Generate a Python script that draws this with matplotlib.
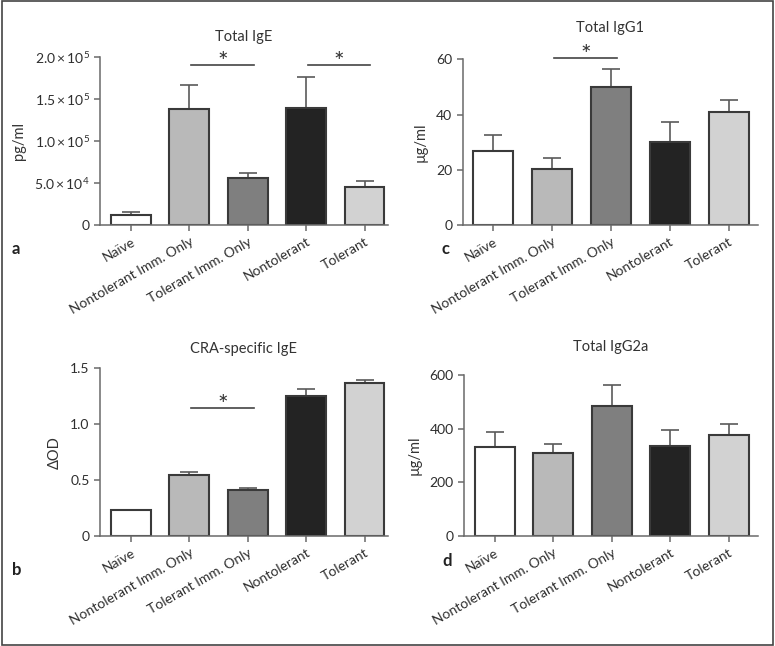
import numpy as np
import matplotlib
matplotlib.use("Agg")
import matplotlib.pyplot as plt
from matplotlib.ticker import FixedLocator, FuncFormatter

plt.rcParams['font.family'] = ['Lato', 'DejaVu Sans']
plt.rcParams['mathtext.fontset'] = 'custom'
plt.rcParams['mathtext.rm'] = 'Lato'
plt.rcParams['mathtext.it'] = 'Lato:italic'

groups = ["Naïve", "Nontolerant Imm. Only", "Tolerant Imm. Only", "Nontolerant", "Tolerant"]
bar_colors = ["#ffffff", "#b9b9b9", "#7f7f7f", "#232323", "#d2d2d2"]

total_ige = [12000, 138500, 55600, 139600, 45200]
total_ige_err = [4000, 28500, 6400, 37400, 7500]

cra_ige = [0.23, 0.543, 0.411, 1.255, 1.366]
cra_ige_err = [0.0, 0.027, 0.019, 0.057, 0.032]

total_igg1 = [26.8, 20.3, 50.1, 30.2, 40.8]
total_igg1_err = [5.9, 3.9, 6.3, 7.2, 4.4]

total_igg2a = [333, 308, 486, 335, 375]
total_igg2a_err = [53, 36, 76, 59, 44]

W, H = 775, 646


def sci_fmt(v, pos):
    if v == 0:
        return "0"
    exp = int(np.floor(np.log10(v)))
    mant = v / 10 ** exp
    return r"$\mathregular{%.1f \times 10^{%d}}$" % (mant, exp)


def draw_panel(ax, values, errors, title, title_y, ylabel, yticks, xlim, sig=None, fmt=None):
    x = np.arange(len(values))
    ax.bar(x, values, width=0.68, color=bar_colors, edgecolor="#3a3a3a",
           linewidth=1.5, zorder=2)
    for xi, v, e in zip(x, values, errors):
        if e > 0:
            ax.errorbar(xi, v, yerr=[[0], [e]], fmt="none", ecolor="#5a5a5a",
                        elinewidth=1.2, capsize=6.5, capthick=1.2, zorder=1)
    ax.set_xlim(*xlim)
    ax.set_ylim(yticks[0], yticks[-1])
    ax.yaxis.set_major_locator(FixedLocator(yticks))
    if fmt is not None:
        ax.yaxis.set_major_formatter(FuncFormatter(fmt))
    ax.set_xticks(x)
    ax.set_xticklabels(groups, rotation=30, ha="right", rotation_mode="anchor")
    box = ax.get_position()
    fig.text((box.x0 + box.x1) / 2, 1 - title_y / H, title, ha="center", va="center",
             fontsize=10.5, color="#333333")
    ax.set_ylabel(ylabel, fontsize=10.5, color="#333333", labelpad=6)
    for s in ["top", "right"]:
        ax.spines[s].set_visible(False)
    for s in ["left", "bottom"]:
        ax.spines[s].set_color("#6a6a6a")
        ax.spines[s].set_linewidth(1.1)
    ax.tick_params(axis="both", colors="#6a6a6a", labelcolor="#2e2e2e",
                   labelsize=10, length=4, width=1.1, direction="out")
    if sig:
        for (i0, i1, yv) in sig:
            x0, x1 = i0 + 0.03, i1 + 0.1
            ax.plot([x0, x1], [yv, yv], color="#444444", lw=1.2, clip_on=False)
            ax.annotate("*", xy=((x0 + x1) / 2, yv), xytext=(0, -3.5),
                        textcoords="offset points", ha="center", va="baseline",
                        fontsize=18, color="#333333", annotation_clip=False)


fig = plt.figure(figsize=(7.75, 6.46), dpi=100)
fig.patch.set_facecolor("white")

ax_a = fig.add_axes([0.129, 0.6517, 0.3716, 0.2596])
ax_c = fig.add_axes([0.597, 0.6517, 0.381, 0.2565])
ax_b = fig.add_axes([0.129, 0.1703, 0.3716, 0.2596])
ax_d = fig.add_axes([0.599, 0.1703, 0.379, 0.2492])

draw_panel(ax_a, total_ige, total_ige_err, "Total IgE", 37, "pg/ml",
           [0, 50000, 100000, 150000, 200000], (-0.53, 4.4),
           sig=[(1, 2, 190500), (3, 4, 190500)], fmt=sci_fmt)
draw_panel(ax_c, total_igg1, total_igg1_err, "Total IgG1", 28, "µg/ml",
           [0, 20, 40, 60], (-0.52, 4.5), sig=[(1, 2, 60.4)])
draw_panel(ax_b, cra_ige, cra_ige_err, "CRA-specific IgE", 349, "ΔOD",
           [0, 0.5, 1.0, 1.5], (-0.53, 4.4), sig=[(1, 2, 1.145)],
           fmt=lambda v, p: "0" if v == 0 else "%.1f" % v)
draw_panel(ax_d, total_igg2a, total_igg2a_err, "Total IgG2a", 347, "µg/ml",
           [0, 200, 400, 600], (-0.52, 4.5))

for lbl, xp, yp in [("a", 12, 249), ("c", 442, 249), ("b", 12, 570), ("d", 442, 561)]:
    fig.text(xp / W, 1 - yp / H, lbl, fontsize=12, fontweight="bold",
             color="#222222", va="center")

fig.add_artist(plt.Rectangle((0.002, 0.002), 0.996, 0.996, transform=fig.transFigure,
                             fill=False, edgecolor="#444444", linewidth=1.2))

fig.savefig("out.png", dpi=100, facecolor="white")
